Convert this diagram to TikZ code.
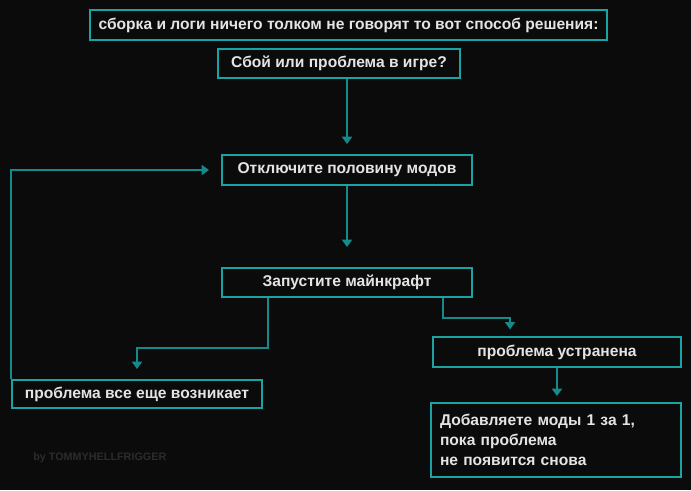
\documentclass[tikz,border=0pt]{standalone}
\usepackage{fontspec}
\setmainfont{Liberation Sans}
\usetikzlibrary{arrows.meta}
\definecolor{bgblack}{RGB}{11,11,11}
\definecolor{boxteal}{RGB}{26,163,163}
\definecolor{arrowteal}{RGB}{20,138,138}
\definecolor{txtgray}{RGB}{228,228,228}
\definecolor{signgray}{RGB}{44,44,44}
\begin{document}
\begin{tikzpicture}[x=.75pt,y=-.75pt,line width=1.5pt,
  every node/.style={font=\bfseries\fontsize{11.7}{15}\selectfont,text=txtgray,inner sep=1pt},
  box/.style={draw=boxteal,fill=bgblack,minimum height=#1*.75pt},
  box/.default=29,
  conn/.style={draw=arrowteal,-{Triangle[width=7.5pt,length=5.5pt]}}]
  \path[use as bounding box,fill=bgblack] (0,0) rectangle (691,490);
  \node[box=30,minimum width=517*.75pt] (title) at (348.5,25) {сборка и логи ничего толком не говорят то вот способ решения:};
  \node[box,minimum width=242*.75pt] (q) at (339,63.5) {Сбой или проблема в игре?};
  \node[box=30,minimum width=250*.75pt] (off) at (347,170) {Отключите половину модов};
  \node[box,minimum width=250*.75pt] (run) at (347,282.5) {Запустите майнкрафт};
  \node[box=28,minimum width=250*.75pt] (still) at (137,394) {проблема все еще возникает};
  \node[box=30,minimum width=248*.75pt] (fixed) at (557,352) {проблема устранена};
  \node[box=74,text width=232*.75pt,align=left,inner xsep=9*.75pt] (add) at (556,440)
    {Добавляете моды 1 за 1,\\пока проблема\\не появится снова};
  \node[text=signgray,font=\bfseries\fontsize{8.1}{9}\selectfont,anchor=west] (sign) at (31,458) {by TOMMYHELLFRIGGER};
  \coordinate (fixin) at ([xshift=-35.25pt]fixed.north);
  \draw[conn,shorten >=7.5pt] (q.south -| off.north) -- (off.north);
  \draw[conn,shorten >=15pt] (off.south) -- (run.north);
  \draw[conn,shorten >=7.5pt] (run.south) ++(-79,0) -- ++(0,50) -| (still.north);
  \draw[conn,shorten >=5pt] (run.south) ++(96,0) -- ++(0,20) -| (fixin);
  \draw[conn,shorten >=4.5pt] (fixed.south) -- (fixed.south |- add.north);
  \draw[conn,shorten >=9pt] (still.north west) |- (off.west);
\end{tikzpicture}
\end{document}
